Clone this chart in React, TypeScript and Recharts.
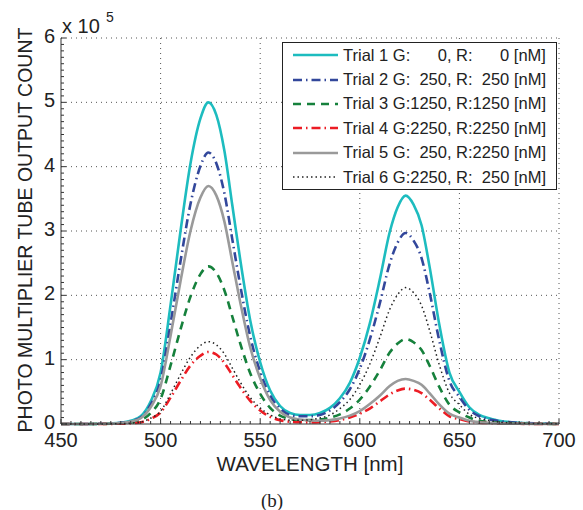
import { LineChart, Line, XAxis, YAxis, ReferenceLine } from 'recharts';

// wavelength [nm] sample points (denser around the two peaks)
const WAVELENGTH = [
  450, 460, 470, 475, 480, 485, 490, 495, 500, 505, 510, 515, 520, 524, 528, 532, 536, 540, 545, 550,
  555, 560, 565, 570, 575, 580, 585, 590, 595, 600, 605, 610, 615, 619, 623, 627, 631, 635, 640, 645,
  650, 655, 660, 665, 670, 680, 690, 700,
];

// PMT counts in units of 1e5
const TRIAL_1 = [
  0, 0, 0.005, 0.01, 0.02, 0.05, 0.12, 0.35, 0.8, 1.85, 3.0, 4.05, 4.75, 5.0, 4.8, 4.25, 3.4, 2.55, 1.61, 0.96,
  0.52, 0.28, 0.17, 0.14, 0.14, 0.17, 0.25, 0.4, 0.64, 1.03, 1.56, 2.24, 2.98, 3.37, 3.55, 3.41, 3.09, 2.45, 1.53, 0.8,
  0.5, 0.26, 0.14, 0.09, 0.05, 0.02, 0.01, 0.004,
];
const TRIAL_2 = [
  0, 0, 0.004, 0.008, 0.017, 0.042, 0.1, 0.3, 0.68, 1.56, 2.53, 3.42, 4.01, 4.22, 4.05, 3.59, 2.87, 2.15, 1.36, 0.81,
  0.44, 0.24, 0.14, 0.12, 0.12, 0.14, 0.21, 0.34, 0.54, 0.86, 1.31, 1.87, 2.49, 2.82, 2.97, 2.85, 2.58, 2.05, 1.28, 0.67,
  0.42, 0.22, 0.12, 0.07, 0.045, 0.018, 0.009, 0.003,
];
const TRIAL_3 = [
  0, 0, 0.002, 0.005, 0.01, 0.025, 0.06, 0.17, 0.39, 0.91, 1.47, 1.98, 2.33, 2.45, 2.35, 2.08, 1.67, 1.25, 0.79, 0.47,
  0.25, 0.13, 0.08, 0.06, 0.06, 0.07, 0.1, 0.15, 0.24, 0.38, 0.58, 0.83, 1.11, 1.25, 1.32, 1.27, 1.15, 0.91, 0.57, 0.3,
  0.18, 0.1, 0.05, 0.03, 0.02, 0.008, 0.004, 0.001,
];
const TRIAL_4 = [
  0, 0, 0.001, 0.002, 0.004, 0.011, 0.027, 0.08, 0.18, 0.41, 0.67, 0.91, 1.06, 1.12, 1.08, 0.95, 0.76, 0.57, 0.36, 0.21,
  0.11, 0.06, 0.035, 0.027, 0.025, 0.029, 0.04, 0.062, 0.1, 0.16, 0.24, 0.35, 0.46, 0.52, 0.55, 0.53, 0.48, 0.38, 0.24, 0.12,
  0.077, 0.04, 0.022, 0.014, 0.008, 0.003, 0.002, 0.001,
];
const TRIAL_5 = [
  0, 0, 0.004, 0.007, 0.015, 0.037, 0.09, 0.26, 0.59, 1.37, 2.22, 3.0, 3.52, 3.7, 3.55, 3.15, 2.52, 1.89, 1.19, 0.71,
  0.37, 0.19, 0.1, 0.07, 0.055, 0.05, 0.06, 0.085, 0.13, 0.2, 0.31, 0.44, 0.59, 0.67, 0.7, 0.67, 0.61, 0.48, 0.3, 0.16,
  0.1, 0.05, 0.028, 0.018, 0.01, 0.004, 0.002, 0.001,
];
const TRIAL_6 = [
  0, 0, 0.001, 0.003, 0.005, 0.013, 0.03, 0.09, 0.2, 0.47, 0.77, 1.04, 1.22, 1.28, 1.23, 1.09, 0.87, 0.65, 0.41, 0.25,
  0.14, 0.08, 0.06, 0.057, 0.066, 0.093, 0.14, 0.24, 0.38, 0.61, 0.93, 1.34, 1.78, 2.01, 2.12, 2.04, 1.84, 1.46, 0.91, 0.48,
  0.3, 0.15, 0.085, 0.053, 0.03, 0.013, 0.006, 0.002,
];

const X_LABELS = [450, 500, 550, 600, 650, 700];
const Y_LABELS = [0, 1, 2, 3, 4, 5, 6];

const SERIES = [
  { key: 't1', label: 'Trial 1 G:      0, R:      0 [nM]', color: '#1dbcbf', width: 2.6, dash: undefined, values: TRIAL_1 },
  { key: 't2', label: 'Trial 2 G:  250, R:  250 [nM]', color: '#32479b', width: 2.6, dash: '9 4 1.5 4', values: TRIAL_2 },
  { key: 't3', label: 'Trial 3 G:1250, R:1250 [nM]', color: '#16813c', width: 2.6, dash: '8 6', values: TRIAL_3 },
  { key: 't4', label: 'Trial 4 G:2250, R:2250 [nM]', color: '#ec1c24', width: 2.6, dash: '9 4 1.5 4', values: TRIAL_4 },
  { key: 't5', label: 'Trial 5 G:  250, R:2250 [nM]', color: '#9a9a9a', width: 2.6, dash: undefined, values: TRIAL_5 },
  { key: 't6', label: 'Trial 6 G:2250, R:  250 [nM]', color: '#222222', width: 1.5, dash: '1.5 3', values: TRIAL_6 },
];

const rows = WAVELENGTH.map((w, i) => {
  const r: Record<string, number> = { w };
  SERIES.forEach((s) => (r[s.key] = s.values[i]));
  return r;
});

const xTicks = Array.from({ length: 51 }, (_, i) => 450 + i * 5);
const yTicks = Array.from({ length: 61 }, (_, i) => i / 10);

const FONT = '"Liberation Sans", Arial, Helvetica, sans-serif';
const AXIS = '#333';

function XTick(props: any) {
  const { x, y, payload } = props;
  const major = X_LABELS.includes(payload.value);
  return (
    <g>
      <line x1={x} y1={y} x2={x} y2={y - (major ? 5 : 3)} stroke={AXIS} strokeWidth={1} />
      {major && (
        <text x={x} y={y + 16} textAnchor="middle" dominantBaseline="central" fontFamily={FONT} fontSize={20} fill="#222">
          {payload.value}
        </text>
      )}
    </g>
  );
}

function YTick(props: any) {
  const { x, y, payload } = props;
  const major = Y_LABELS.includes(payload.value);
  return (
    <g>
      <line x1={x} y1={y} x2={x + (major ? 5 : 3)} y2={y} stroke={AXIS} strokeWidth={1} />
      {major && (
        <text x={x - 6} y={y - 2} textAnchor="end" dominantBaseline="central" fontFamily={FONT} fontSize={20} fill="#222">
          {payload.value}
        </text>
      )}
    </g>
  );
}

function YLabel() {
  return (
    <text
      x={25}
      y={230}
      transform="rotate(-90, 25, 230)"
      textAnchor="middle"
      dominantBaseline="central"
      fontFamily={FONT}
      fontSize={19.5}
      fill="#222"
    >
      PHOTO MULTIPLIER TUBE OUTPUT COUNT
    </text>
  );
}

function XLabel() {
  return (
    <text x={310} y={463} textAnchor="middle" dominantBaseline="central" fontFamily={FONT} fontSize={20.5} fill="#222">
      WAVELENGTH [nm]
    </text>
  );
}

export default function App() {
  return (
    <div style={{ position: 'absolute', left: 0, top: 0, width: 583, height: 510, background: '#fff' }}>
      <LineChart width={583} height={510} data={rows} margin={{ top: 38, right: 24, bottom: 0, left: 0 }}>
        <XAxis
          dataKey="w"
          type="number"
          domain={[450, 700]}
          ticks={xTicks}
          interval={0}
          height={86}
          tickSize={0}
          tickMargin={0}
          tickLine={false}
          tick={<XTick />}
          axisLine={{ stroke: AXIS, strokeWidth: 1 }}
          label={<XLabel />}
        />
        <YAxis
          type="number"
          domain={[0, 6]}
          ticks={yTicks}
          interval={0}
          width={61}
          tickSize={0}
          tickMargin={0}
          tickLine={false}
          tick={<YTick />}
          axisLine={{ stroke: AXIS, strokeWidth: 1 }}
          label={<YLabel />}
        />
        {X_LABELS.slice(1).map((v) => (
          <ReferenceLine key={'gx' + v} x={v} stroke="#555" strokeDasharray="1 4" strokeWidth={1} />
        ))}
        {Y_LABELS.slice(1).map((v) => (
          <ReferenceLine key={'gy' + v} y={v} stroke="#555" strokeDasharray="1 4" strokeWidth={1} />
        ))}
        {SERIES.map((s) => (
          <Line
            key={s.key}
            dataKey={s.key}
            type="monotone"
            stroke={s.color}
            strokeWidth={s.width}
            strokeDasharray={s.dash}
            dot={false}
            activeDot={false}
            isAnimationActive={false}
          />
        ))}
      </LineChart>

      <svg width={583} height={510} style={{ position: 'absolute', left: 0, top: 0, pointerEvents: 'none' }}>
        <text x={62} y={33} fontFamily={FONT} fontSize={20} fill="#222">
          x 10
        </text>
        <text x={106} y={22} fontFamily={FONT} fontSize={14} fill="#222">
          5
        </text>
        <text x={272} y={507} textAnchor="middle" fontFamily='"Liberation Serif", "Times New Roman", serif' fontSize={19} fill="#222">
          (b)
        </text>
      </svg>

      <div
        style={{
          position: 'absolute',
          left: 282,
          top: 42,
          width: 275,
          height: 148,
          boxSizing: 'border-box',
          border: '1.5px solid #222',
          background: '#fff',
          fontFamily: FONT,
          fontSize: 16.5,
          color: '#222',
        }}
      >
        {SERIES.map((s) => (
          <div key={s.key} style={{ height: 24.4, display: 'flex', alignItems: 'center' }}>
            <svg width={55} height={10} style={{ flex: 'none' }}>
              <line x1={10} y1={5} x2={55} y2={5} stroke={s.color} strokeWidth={s.width} strokeDasharray={s.dash} />
            </svg>
            <span style={{ marginLeft: 5, whiteSpace: 'pre' }}>{s.label}</span>
          </div>
        ))}
      </div>
    </div>
  );
}
